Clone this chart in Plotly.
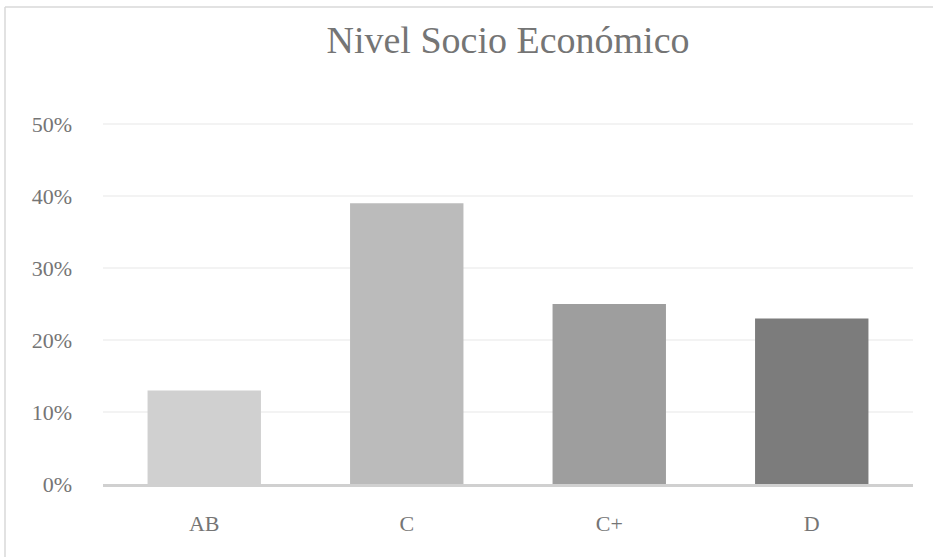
import plotly.graph_objects as go

categories = ["AB", "C", "C+", "D"]
values = [0.13, 0.39, 0.25, 0.23]
bar_colors = ["#d0d0d0", "#bbbbbb", "#9e9e9e", "#7c7c7c"]
y_ticks = [0, 0.1, 0.2, 0.3, 0.4, 0.5]
y_tick_labels = ["0%", "10%", "20%", "30%", "40%", "50%"]

W, H = 933, 557
L, R, T, B = 103, 20, 123, 73
pw, ph = W - L - R, H - T - B

font_family = "Liberation Serif, DejaVu Serif, serif"
text_color = "#757575"

fig = go.Figure(go.Bar(x=categories, y=values, marker=dict(color=bar_colors, line=dict(width=0)),
                       hoverinfo="x+y"))

fig.update_layout(
    width=W, height=H,
    margin=dict(l=L, r=R, t=T, b=B),
    paper_bgcolor="white", plot_bgcolor="white",
    bargap=0.44,
    showlegend=False,
    title=dict(text="Nivel Socio Económico", x=508 / W, xanchor="center",
               y=1 - 40 / H, yanchor="middle",
               font=dict(family=font_family, size=38, color=text_color)),
    font=dict(family=font_family, color=text_color),
    xaxis=dict(showgrid=False, showline=True, linecolor="#d0d0d0", linewidth=2.5,
               tickfont=dict(size=22, color=text_color), ticks="", ticklabelstandoff=18),
    yaxis=dict(range=[0, 0.5015], tickvals=y_ticks, ticktext=y_tick_labels,
               showgrid=True, gridcolor="#f3f3f3", gridwidth=1.5, zeroline=False,
               showline=False, ticks="", tickfont=dict(size=22, color=text_color),
               ticklabelstandoff=30),
    shapes=[
        dict(type="line", xref="paper", yref="paper",
             x0=(5 - L) / pw, x1=(5 - L) / pw, y0=(H - B - 600) / ph, y1=(H - B - 7) / ph,
             line=dict(color="#d9d9d9", width=1.5), layer="below"),
        dict(type="line", xref="paper", yref="paper",
             x0=(5 - L) / pw, x1=(1000 - L) / pw, y0=(H - B - 7) / ph, y1=(H - B - 7) / ph,
             line=dict(color="#d9d9d9", width=1.5), layer="below"),
    ],
)

html = fig.to_html(include_plotlyjs=True, full_html=True, config={"displayModeBar": False})
html = html.replace("<head>", "<head><style>html,body{margin:0;padding:0;overflow:hidden;}</style>", 1)
with open("out.html", "w", encoding="utf-8") as f:
    f.write(html)
